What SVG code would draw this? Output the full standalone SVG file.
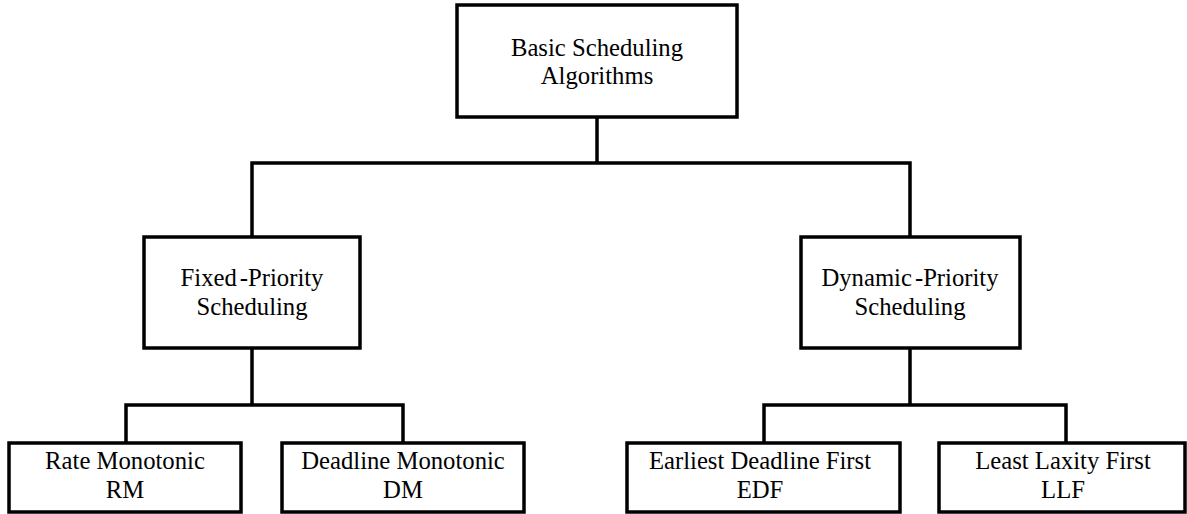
<svg xmlns="http://www.w3.org/2000/svg" width="1187" height="514" viewBox="0 0 1187 514">
<style>
.box{fill:#fff;stroke:#000;stroke-width:3.5}
.lnk{fill:none;stroke:#000;stroke-width:3.5;stroke-linejoin:miter;stroke-linecap:square}
.t{font-family:'Liberation Serif','Times New Roman',serif;font-size:24.7px;fill:#000;text-anchor:middle}
</style>
<rect width="1187" height="514" fill="#fff"/>
<g id="connectors">
<path class="lnk" d="M597 117V163M252 163H910M252 163V237M910 163V237"/>
<path class="lnk" d="M252 348V405M126 405H403M126 405V443M403 405V443"/>
<path class="lnk" d="M910 348V405M764 405H1066M764 405V443M1066 405V443"/>
</g>
<g id="root">
<rect class="box" x="457" y="5" width="280" height="112"/>
<text class="t" x="597" y="56">Basic Scheduling</text>
<text class="t" x="597" y="84">Algorithms</text>
</g>
<g id="fixed">
<rect class="box" x="144" y="237" width="216" height="111"/>
<text class="t" x="252" y="286">Fixed<tspan dx="3">-Priority</tspan></text>
<text class="t" x="252" y="315">Scheduling</text>
</g>
<g id="dynamic">
<rect class="box" x="801" y="237" width="219" height="111"/>
<text class="t" x="910" y="286">Dynamic<tspan dx="3">-Priority</tspan></text>
<text class="t" x="910" y="315">Scheduling</text>
</g>
<g id="rm">
<rect class="box" x="9" y="443" width="232" height="69"/>
<text class="t" x="125" y="469">Rate Monotonic</text>
<text class="t" x="125" y="498">RM</text>
</g>
<g id="dm">
<rect class="box" x="282" y="443" width="242" height="69"/>
<text class="t" x="403" y="469">Deadline Monotonic</text>
<text class="t" x="403" y="498">DM</text>
</g>
<g id="edf">
<rect class="box" x="627" y="443" width="273" height="69"/>
<text class="t" x="760" y="469">Earliest Deadline First</text>
<text class="t" x="760" y="498">EDF</text>
</g>
<g id="llf">
<rect class="box" x="939" y="443" width="246" height="69"/>
<text class="t" x="1063" y="469">Least Laxity First</text>
<text class="t" x="1063" y="498">LLF</text>
</g>
</svg>
